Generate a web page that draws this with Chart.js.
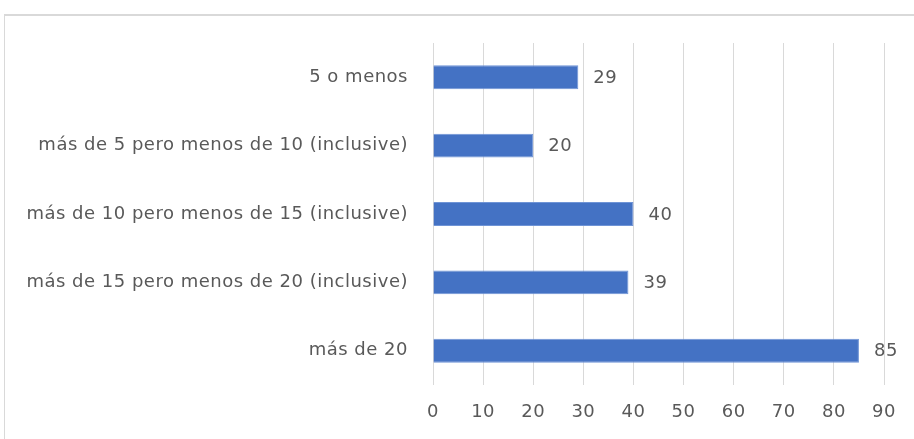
<!DOCTYPE html>
<html>
<head>
<meta charset="utf-8">
<script src="https://cdn.jsdelivr.net/npm/chart.js@4"></script>
<style>
  html, body { margin: 0; padding: 0; background: #fff; }
  #wrap { position: relative; width: 914px; height: 439px; overflow: hidden; }
  #frame { position: absolute; left: 4px; top: 14px; width: 920px; height: 440px;
           border-top: 2px solid #d9d9d9; border-left: 1px solid #d9d9d9; box-sizing: border-box; }
  canvas { position: absolute; left: 0; top: 0; }
</style>
</head>
<body>
<div id="wrap">
  <div id="frame"></div>
  <canvas id="c" width="914" height="439"></canvas>
</div>
<script>
const categories = [
  "5 o menos",
  "más de 5 pero menos de 10 (inclusive)",
  "más de 10 pero menos de 15 (inclusive)",
  "más de 15 pero menos de 20 (inclusive)",
  "más de 20"
];
const values = [29, 20, 40, 39, 85];
const xTicks = [0, 10, 20, 30, 40, 50, 60, 70, 80, 90];

const FONT = '"DejaVu Sans", sans-serif';
const TXT = '#595959';
const SIZE = 18;

const spacing = {
  id: 'spacing',
  beforeDraw(chart) { chart.ctx.letterSpacing = '0.5px'; }
};

const valueLabels = {
  id: 'valueLabels',
  afterDatasetsDraw(chart) {
    const ctx = chart.ctx;
    const meta = chart.getDatasetMeta(0);
    ctx.save();
    ctx.font = SIZE + 'px ' + FONT;
    ctx.fillStyle = TXT;
    ctx.textAlign = 'left';
    ctx.textBaseline = 'middle';
    meta.data.forEach((bar, i) => {
      ctx.fillText(String(values[i]), bar.x + 15, bar.y + 1);
    });
    ctx.restore();
  }
};

new Chart(document.getElementById('c'), {
  type: 'bar',
  data: {
    labels: categories,
    datasets: [{
      data: values,
      backgroundColor: '#4472C4',
      borderColor: '#6f94d6',
      borderWidth: 1,
      barPercentage: 0.35,
      categoryPercentage: 1.0
    }]
  },
  options: {
    indexAxis: 'y',
    responsive: false,
    animation: false,
    events: [],
    layout: { padding: { top: 43, right: 30, left: 0, bottom: 0 } },
    plugins: { legend: { display: false }, tooltip: { enabled: false } },
    scales: {
      x: {
        min: 0, max: 90,
        afterBuildTicks(scale) { scale.ticks = xTicks.map(v => ({ value: v })); },
        afterFit(scale) { scale.height = 54; },
        grid: { color: '#d9d9d9', lineWidth: 1, drawTicks: false },
        border: { display: false },
        ticks: { color: TXT, font: { family: FONT, size: SIZE }, padding: 17 }
      },
      y: {
        afterFit(scale) { scale.width = 433; },
        grid: { display: false },
        border: { display: false },
        ticks: { color: TXT, font: { family: FONT, size: SIZE }, padding: 17 }
      }
    }
  },
  plugins: [spacing, valueLabels]
});
</script>
</body>
</html>
